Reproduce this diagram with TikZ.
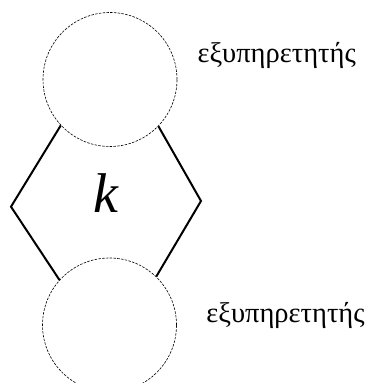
\documentclass[tikz,border=0pt]{standalone}
\usepackage{fontspec}
\setmainfont{Liberation Serif}
\begin{document}
\begin{tikzpicture}[x=1pt,y=1pt,
  server/.style={circle,draw,line width=0.6pt,dash pattern=on 2.5pt off 1.3pt,minimum size=134pt,inner sep=0pt},
  link/.style={line width=2pt},
  lbl/.style={font=\fontsize{28.5}{30}\selectfont,inner sep=0pt}]
\useasboundingbox (0,0) rectangle (370,383);
\node[server] (top) at (110,303.5) {};
\node[server] (bot) at (109.5,58) {};
\coordinate (lv) at (11,176.3);
\coordinate (rv) at (201,182);
\draw[link] (top.223) -- (lv) -- (bot.138);
\draw[link] (top.316) -- (rv) -- (bot.46);
\node[font=\fontsize{56}{60}\selectfont\itshape,inner sep=0pt] (k) at (106,190) {k};
\node[lbl] (t1) at (276.7,328) {εξυπηρετητής};
\node[lbl] (t2) at (285.5,68) {εξυπηρετητής};
\end{tikzpicture}
\end{document}
